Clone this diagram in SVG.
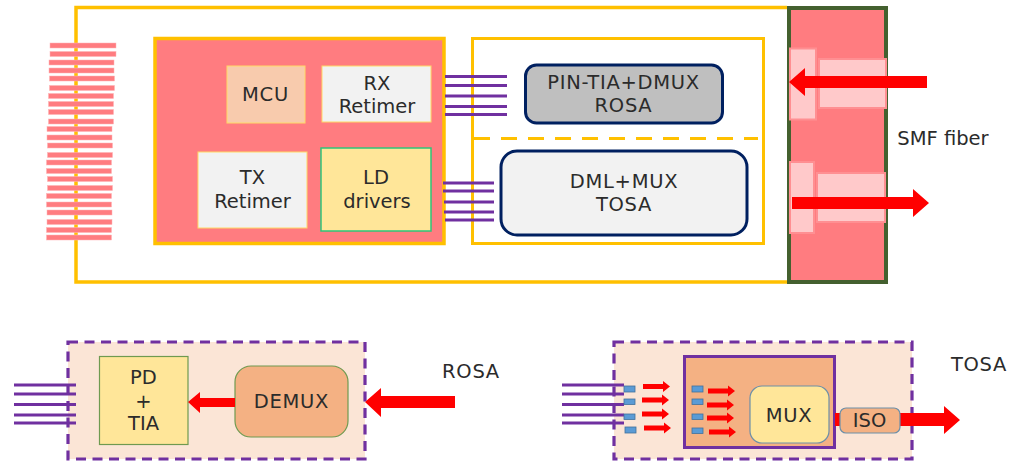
<svg xmlns="http://www.w3.org/2000/svg" width="1025" height="461" viewBox="0 0 1025 461">
<style>
text{font-family:"DejaVu Sans","Noto Sans",sans-serif;font-size:19.500px;fill:#2b2b2b;text-anchor:middle}
.w{letter-spacing:.7px}
.st{fill:#ff7c80;stroke:#ffb4b6;stroke-width:.5}
.pk{fill:#ffc9ca;stroke:#ff8f92;stroke-width:2}
.pl{stroke:#7030a0;stroke-width:2.800;fill:none}
.ar{fill:#ff0000}
.bl{fill:#5b9bd5;stroke:#41719c;stroke-width:.8}
.dash{fill:#fbe5d6;stroke:#7030a0;stroke-width:3.200;stroke-dasharray:10 6.500}
</style>
<defs>
<path id="sa" class="ar" d="M0 -2.500L20 -2.500L20 -5.500L27 0L20 5.500L20 2.500L0 2.500Z"/>
<path id="pls" class="pl" d="M0 0H62M0 9H62M0 19.500H62M0 30H62M0 38H62"/>
</defs>
<g id="module"><path d="M787 7.500H76V282H787" fill="#fff" stroke="#ffc000" stroke-width="3.500"/></g>
<g id="edge-connector">
<rect x="50" y="43" width="66" height="5" class="st"/><rect x="50" y="51.500" width="66" height="5" class="st"/>
<rect x="49" y="60" width="65" height="5" class="st"/><rect x="49" y="68" width="65" height="5" class="st"/>
<rect x="49.500" y="76" width="65" height="5" class="st"/><rect x="49.500" y="85.500" width="65" height="5" class="st"/>
<rect x="48.500" y="93.500" width="65" height="5" class="st"/><rect x="48.500" y="101.500" width="65" height="5" class="st"/>
<rect x="48.500" y="109.500" width="65" height="5" class="st"/><rect x="48.500" y="119" width="65" height="5" class="st"/>
<rect x="47" y="126.500" width="65" height="5" class="st"/><rect x="47" y="135" width="65" height="5" class="st"/>
<rect x="47.500" y="143" width="65" height="5" class="st"/><rect x="47.500" y="152.500" width="65" height="5" class="st"/>
<rect x="46.500" y="160" width="65" height="5" class="st"/><rect x="46.500" y="168.500" width="65" height="5" class="st"/>
<rect x="47.500" y="176.500" width="65" height="5" class="st"/><rect x="47.500" y="185.500" width="65" height="5" class="st"/>
<rect x="46.500" y="193.500" width="65" height="5" class="st"/><rect x="46.500" y="202" width="65" height="5" class="st"/>
<rect x="47" y="210" width="65" height="5" class="st"/><rect x="47" y="219.500" width="65" height="5" class="st"/>
<rect x="46.500" y="227.500" width="65" height="5" class="st"/><rect x="46.500" y="235" width="65" height="5" class="st"/>
</g>
<g id="host-ic"><rect x="155" y="38.500" width="289" height="205" fill="#ff7c80" stroke="#ffc000" stroke-width="3.500"/></g>
<g id="mcu"><rect x="227" y="66" width="78" height="57" fill="#f8cbad" stroke="#ffd966"/><text class="w" x="265.500" y="101">MCU</text></g>
<g id="rx-retimer"><rect x="322" y="66" width="109" height="56" fill="#f2f2f2" stroke="#ffd966"/><text x="377" y="90">RX</text><text x="377" y="113">Retimer</text></g>
<g id="tx-retimer"><rect x="198" y="152" width="109" height="76" fill="#f2f2f2" stroke="#ffd966"/><text x="252.500" y="184">TX</text><text x="252.500" y="208">Retimer</text></g>
<g id="ld-drivers"><rect x="321" y="148" width="110" height="83" fill="#ffe699" stroke="#2fc47a" stroke-width="1.500"/><text x="376" y="184">LD</text><text x="377" y="208">drivers</text></g>
<g id="optics"><rect x="472.500" y="38.500" width="291" height="205" fill="#fff" stroke="#ffc000" stroke-width="3"/>
<path d="M474 138.500H758" stroke="#ffc000" stroke-width="3" stroke-dasharray="16 11" fill="none"/></g>
<g id="rosa-block"><rect x="525.500" y="65" width="197" height="58" rx="11" fill="#bfbfbf" stroke="#002060" stroke-width="3"/><text class="w" x="623.500" y="89">PIN-TIA+DMUX</text><text class="w" x="623.500" y="112">ROSA</text></g>
<g id="tosa-block"><rect x="501" y="151" width="246" height="84" rx="16" fill="#f2f2f2" stroke="#002060" stroke-width="3"/><text class="w" x="624" y="188">DML+MUX</text><text class="w" x="624" y="211">TOSA</text></g>
<g id="fiber-port"><rect x="789" y="8" width="97" height="274" fill="#ff7c80" stroke="#44602f" stroke-width="4"/>
<rect x="790" y="48.500" width="26" height="71" class="pk"/><rect x="819" y="59" width="67" height="49" class="pk"/>
<rect x="790" y="162" width="24" height="71" class="pk"/><rect x="817" y="173" width="68" height="49" class="pk"/></g>
<g id="connectors">
<use href="#pls" x="445" y="76.500"/>
<path class="pl" d="M443 183H494M443 191H494M444 202H494M444 212H494M445 220H494"/>
<path class="ar" d="M789 82L805 68V76H927V88H805V96Z"/>
<path class="ar" d="M792 197H913V189L929 203L913 217V209H792Z"/>
</g>
<text x="943" y="145">SMF fiber</text>
<g id="rosa-detail"><rect x="68" y="342" width="297" height="117" class="dash"/>
<use href="#pls" x="14" y="385"/>
<rect x="99.500" y="356.500" width="88.500" height="88" fill="#ffe699" stroke="#6f9a50" stroke-width="1.200"/>
<text x="143.500" y="384">PD</text><text x="143.500" y="408">+</text><text x="143.500" y="430">TIA</text>
<rect x="235" y="366" width="113" height="71" rx="16" fill="#f4b183" stroke="#6f9a50" stroke-width="1.200"/>
<text class="w" x="291.500" y="408">DEMUX</text>
<path class="ar" d="M188 402L200 392V398H235V407H200V413Z"/>
<path class="ar" d="M365 402L381 388V396H455V408H381V417Z"/>
</g>
<text class="w" x="471" y="378">ROSA</text>
<g id="tosa-detail"><rect x="614" y="342" width="298" height="117" class="dash"/>
<use href="#pls" x="562" y="385"/>
<rect x="624" y="386" width="11" height="6" class="bl"/><rect x="624" y="399" width="11" height="5.500" class="bl"/><rect x="624" y="414" width="11" height="5.500" class="bl"/><rect x="625" y="427" width="11" height="6" class="bl"/>
<use href="#sa" x="643" y="386.500"/><use href="#sa" x="642" y="400"/><use href="#sa" x="642" y="414"/><use href="#sa" x="644" y="428"/>
<rect x="684.500" y="356.500" width="150" height="91" fill="#f4b183" stroke="#7030a0" stroke-width="3"/>
<rect x="692" y="386" width="11" height="6" class="bl"/><rect x="692" y="399" width="11" height="5.500" class="bl"/><rect x="692" y="414" width="11" height="5.500" class="bl"/><rect x="692" y="428" width="11" height="5.500" class="bl"/>
<use href="#sa" x="708" y="391"/><use href="#sa" x="707" y="405"/><use href="#sa" x="707" y="418"/><use href="#sa" x="709" y="432"/>
<rect x="750" y="386" width="79" height="57" rx="12" fill="#ffe699" stroke="#6d8fa8" stroke-width="1.200"/>
<text class="w" x="789" y="422">MUX</text>
<path class="ar" d="M835 413H944V406L960 420L944 434V426H835Z"/>
<rect x="840" y="408" width="60" height="25" rx="6" fill="#f4b183" stroke="#6d8fa8" stroke-width="1.200"/>
<text x="869.500" y="427">ISO</text>
</g>
<text class="w" x="979" y="371">TOSA</text>
</svg>
